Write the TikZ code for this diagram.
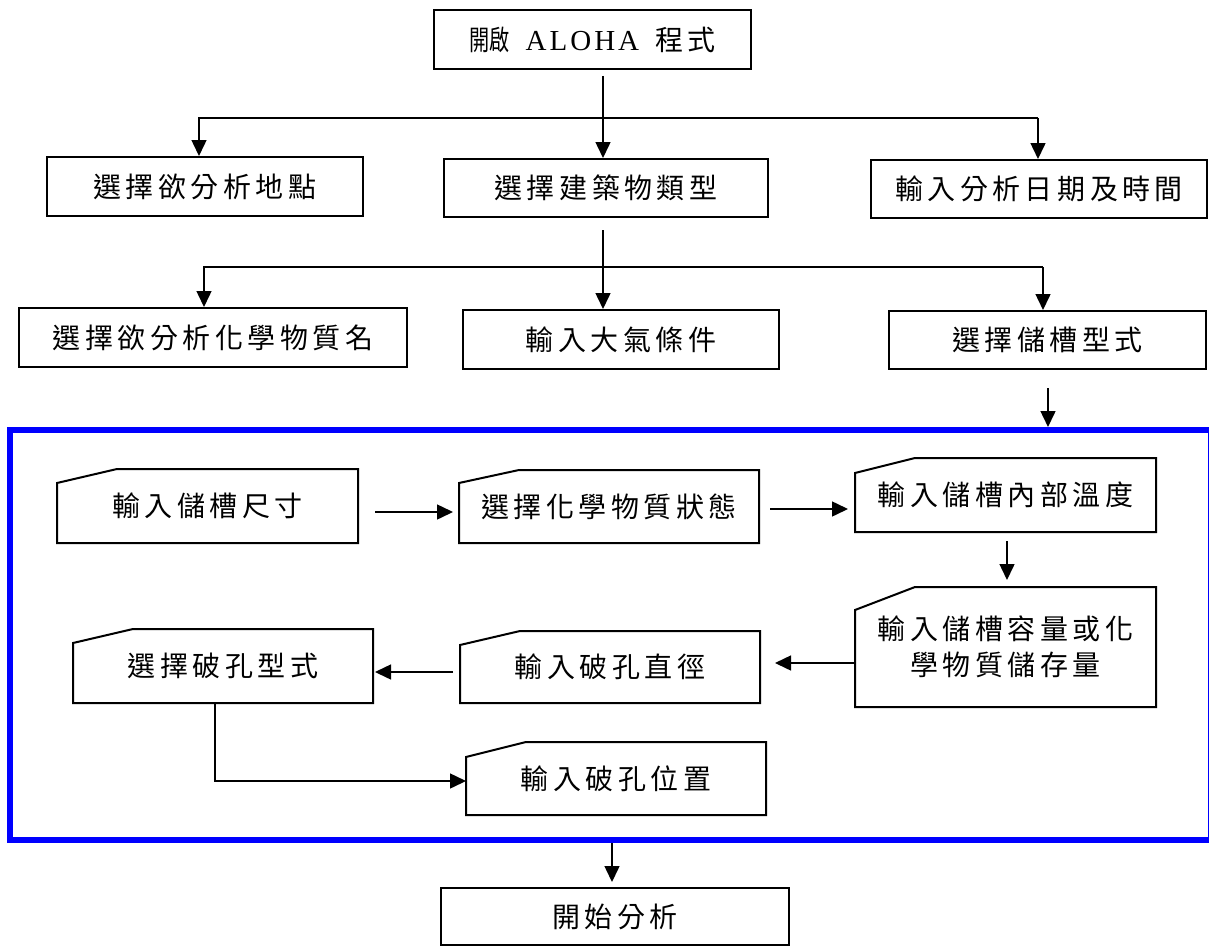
\documentclass[tikz,border=0pt]{standalone}
\usepackage{fontspec}
\usepackage{graphicx}
\newfontfamily\cjk{Noto Sans CJK TC}
\newfontfamily\serifl{Liberation Serif}
\usetikzlibrary{arrows.meta,calc}
\definecolor{frameblue}{RGB}{0,0,255}
\makeatletter
\newcommand\spcd[2][4.5pt]{\def\spcd@gap{#1}\spcd@aux#2\relax\relax}
\def\spcd@aux#1#2{#1\ifx\relax#2\else\kern\spcd@gap\expandafter\spcd@aux\expandafter#2\fi}
\makeatother
\newcommand\cutoutline[2]{\draw[line width=2pt, line join=miter]
  ($(#1.north west)+(0pt,-#2)$) -- ($(#1.north west)+(60pt,0pt)$) -- (#1.north east)
  -- (#1.south east) -- (#1.south west) -- cycle;}
\tikzset{
  txt/.style={font=\cjk\fontsize{28}{36}\selectfont, align=center, inner sep=0pt},
  box/.style={txt, draw, line width=2pt},
  cutbox/.style={txt, outer sep=0pt},
  ln/.style={line width=1.5pt},
  arr/.style={ln, -{Triangle[length=16pt,width=15pt]}},
  grpframe/.style={draw=frameblue, line width=6pt, inner sep=0pt}
}
\begin{document}
\begin{tikzpicture}[x=1pt,y=-1pt]
\useasboundingbox (0,0) rectangle (1209,947);

% top rows
\node[box, minimum width=317pt, minimum height=59pt] (start) at (592.5,39.5)
  {\scalebox{0.72}[1]{開啟}\hspace{16pt}{\serifl\fontsize{29}{30}\selectfont\spcd[3pt]{ALOHA}}\hspace{16pt}\spcd{程式}};
\node[box, minimum width=316pt, minimum height=59pt] (site) at (205,186.5) {\spcd{選擇欲分析地點}};
\node[box, minimum width=324pt, minimum height=58pt] (bldg) at (606,188) {\spcd{選擇建築物類型}};
\node[box, minimum width=336pt, minimum height=58pt] (date) at (1039,189) {\spcd{輸入分析日期及時間}};
\node[box, minimum width=388pt, minimum height=59pt] (chem) at (213,337.5) {\spcd{選擇欲分析化學物質名}};
\node[box, minimum width=316pt, minimum height=59pt] (atm) at (621,339.5) {\spcd{輸入大氣條件}};
\node[box, minimum width=317pt, minimum height=58pt] (tank) at (1047.5,340) {\spcd{選擇儲槽型式}};

% blue frame
\node[grpframe, minimum width=1201pt, minimum height=410pt] (grp) at (610.5,635) {};

% inner cut boxes
\node[cutbox, minimum width=301pt, minimum height=74pt] (dim) at (207.5,506) {\spcd{輸入儲槽尺寸}};
\node[cutbox, minimum width=300pt, minimum height=73pt] (state) at (609,506.5) {\spcd{選擇化學物質狀態}};
\node[cutbox, minimum width=301pt, minimum height=74pt] (temp) at (1005.5,495) {\spcd{輸入儲槽內部溫度}};
\node[cutbox, minimum width=301pt, minimum height=120pt] (cap) at (1005.5,647) {\spcd{輸入儲槽容量或化}\\\spcd{學物質儲存量}};
\node[cutbox, minimum width=300pt, minimum height=72pt] (dia) at (610,667) {\spcd{輸入破孔直徑}};
\node[cutbox, minimum width=300pt, minimum height=74pt] (type) at (223,666) {\spcd{選擇破孔型式}};
\node[cutbox, minimum width=300pt, minimum height=73pt] (pos) at (616,778.5) {\spcd{輸入破孔位置}};
\cutoutline{dim}{14pt}
\cutoutline{state}{13pt}
\cutoutline{temp}{15pt}
\cutoutline{cap}{23pt}
\cutoutline{dia}{14pt}
\cutoutline{type}{14pt}
\cutoutline{pos}{15pt}

\node[box, minimum width=348pt, minimum height=57pt] (go) at (615,916.5) {\spcd{開始分析}};

% junction coordinates
\coordinate (c1) at (603,118);
\coordinate (c1L) at (199,118);
\coordinate (c1R) at (1038,118);
\coordinate (c2) at (603,267);
\coordinate (c2L) at (204,267);
\coordinate (c2R) at (1043,267);
\coordinate (c3) at (1048,400);
\coordinate (r1) at (400,512);
\coordinate (r2) at (800,509);
\coordinate (c4) at (1007,560);
\coordinate (r3) at (800,663);
\coordinate (r4) at (400,672);
\coordinate (c5) at (215,781);
\coordinate (c6) at (612,860);

% connectors
\draw[arr, shorten <=6pt] (start.south -| c1) -- (bldg.north -| c1);
\draw[arr] (c1R) -| (site.north -| c1L);
\draw[arr] (c1R) -- (date.north -| c1R);
\draw[arr, shorten <=12pt] (bldg.south -| c2) -- (atm.north -| c2);
\draw[arr] (c2R) -| (chem.north -| c2L);
\draw[arr] (c2R) -- (tank.north -| c2R);
\draw[arr, shorten <=18pt] (tank.south -| c3) -- (grp.north -| c3);
\draw[arr, shorten <=17pt, shorten >=6pt] (dim.east |- r1) -- (state.west |- r1);
\draw[arr, shorten <=11pt, shorten >=7pt] (state.east |- r2) -- (temp.west |- r2);
\draw[arr, shorten <=9pt, shorten >=7pt] (temp.south -| c4) -- (cap.north -| c4);
\draw[arr, shorten >=15pt] (cap.west |- r3) -- (dia.east |- r3);
\draw[arr, shorten <=7pt, shorten >=2pt] (dia.west |- r4) -- (type.east |- r4);
\draw[arr] (type.south -| c5) |- (pos.west |- c5);
\draw[arr, shorten >=5pt] (grp.south -| c6) -- (go.north -| c6);
\end{tikzpicture}
\end{document}
